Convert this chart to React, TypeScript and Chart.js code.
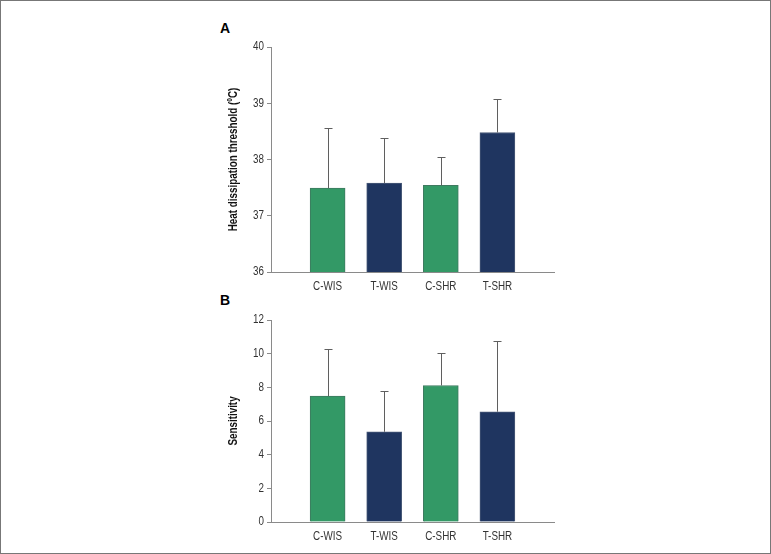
import React, { useEffect, useRef } from 'react';
import { Chart, registerables } from 'chart.js';

Chart.register(...registerables);

const categories = ['C-WIS', 'T-WIS', 'C-SHR', 'T-SHR'];
const thresholdMeans = [37.49, 37.58, 37.54, 38.48];
const thresholdErrors = [1.07, 0.8, 0.5, 0.6];
const sensitivityMeans = [7.48, 5.36, 8.11, 6.55];
const sensitivityErrors = [2.8, 2.44, 1.93, 4.21];
const thresholdTicks = [36, 37, 38, 39, 40];
const sensitivityTicks = [0, 2, 4, 6, 8, 10, 12];
const barColors = ['#339966', '#1f3560', '#339966', '#1f3560'];
const barBorders = ['#3f7a60', '#4a5a78', '#3f7a60', '#4a5a78'];

const FONT = "'Liberation Sans', Arial, sans-serif";
const NARROW = 0.82;
const AXIS = '#8a8a8a';

function makeErrorPlugin(errors: (number | null)[]) {
  return {
    id: 'errorBars',
    afterDatasetsDraw(chart: any) {
      const meta = chart.getDatasetMeta(0);
      const values = chart.data.datasets[0].data as (number | null)[];
      const y = chart.scales.y;
      const ctx = chart.ctx as CanvasRenderingContext2D;
      ctx.save();
      ctx.strokeStyle = '#5f5f5f';
      ctx.lineWidth = 1;
      meta.data.forEach((el: any, i: number) => {
        const v = values[i];
        const e = errors[i];
        if (v == null || e == null) return;
        const x = Math.round(el.x) + 0.5;
        const top = Math.round(y.getPixelForValue(v + e)) + 0.5;
        const base = y.getPixelForValue(v);
        ctx.beginPath();
        ctx.moveTo(x, base);
        ctx.lineTo(x, top);
        ctx.moveTo(x - 4, top);
        ctx.lineTo(x + 4, top);
        ctx.stroke();
      });
      ctx.restore();
    },
  };
}

// Draws tick labels and the axis title in a narrow (horizontally condensed) face
function makeTextPlugin(labels: string[], ticks: number[], title: string) {
  return {
    id: 'narrowText',
    afterDraw(chart: any) {
      const ctx = chart.ctx as CanvasRenderingContext2D;
      const { left, top, bottom } = chart.chartArea;
      const xs = chart.scales.x;
      const ys = chart.scales.y;
      ctx.save();
      ctx.fillStyle = '#333';
      ctx.font = `12px ${FONT}`;
      ctx.textBaseline = 'middle';
      ticks.forEach((v) => {
        const py = ys.getPixelForValue(v);
        ctx.save();
        ctx.translate(left - 7, py);
        ctx.scale(NARROW, 1);
        ctx.textAlign = 'right';
        ctx.fillText(String(v), 0, 0);
        ctx.restore();
      });
      labels.forEach((lab, i) => {
        if (!lab) return;
        const px = xs.getPixelForValue(i);
        ctx.save();
        ctx.translate(px, bottom + 14.5);
        ctx.scale(NARROW, 1);
        ctx.textAlign = 'center';
        ctx.fillText(lab, 0, 0);
        ctx.restore();
      });
      ctx.save();
      ctx.fillStyle = '#111';
      ctx.font = `bold 12px ${FONT}`;
      ctx.translate(left - 37, (top + bottom) / 2);
      ctx.rotate(-Math.PI / 2);
      ctx.scale(NARROW, 1);
      ctx.textAlign = 'center';
      ctx.fillText(title, 0, 0);
      ctx.restore();
      ctx.restore();
    },
  };
}

type PanelProps = {
  left: number;
  top: number;
  width: number;
  height: number;
  means: number[];
  errors: number[];
  ticks: number[];
  title: string;
};

function BarPanel({ left, top, width, height, means, errors, ticks, title }: PanelProps) {
  const ref = useRef<HTMLCanvasElement | null>(null);
  useEffect(() => {
    if (!ref.current) return;
    const labels = ['', ...categories, ''];
    const data = [null, ...means, null];
    const errs = [null, ...errors, null];
    const chart = new Chart(ref.current, {
      type: 'bar',
      data: {
        labels,
        datasets: [
          {
            data: data as any,
            backgroundColor: ['transparent', ...barColors, 'transparent'],
            borderColor: ['transparent', ...barBorders, 'transparent'],
            borderWidth: 1,
            barThickness: 35,
          },
        ],
      },
      options: {
        animation: false,
        responsive: false,
        maintainAspectRatio: false,
        layout: { padding: { top: 8, left: 0, right: 1, bottom: 0 } },
        plugins: {
          legend: { display: false },
          tooltip: { enabled: false },
          title: { display: false },
        },
        scales: {
          x: {
            type: 'category',
            offset: false,
            grid: { display: false },
            border: { display: true, color: AXIS, width: 1 },
            ticks: { display: false, autoSkip: false },
            afterFit: (s: any) => {
              s.height = 30;
            },
          },
          y: {
            min: ticks[0],
            max: ticks[ticks.length - 1],
            afterBuildTicks: (s: any) => {
              s.ticks = ticks.map((v) => ({ value: v }));
            },
            ticks: { display: false },
            grid: { drawOnChartArea: false, drawTicks: true, tickLength: 4, color: AXIS },
            border: { display: true, color: AXIS, width: 1 },
            title: { display: false },
            afterFit: (s: any) => {
              s.width = 49;
            },
          },
        },
      } as any,
      plugins: [makeErrorPlugin(errs), makeTextPlugin(labels, ticks, title)],
    });
    return () => chart.destroy();
  }, []);
  return (
    <canvas
      ref={ref}
      width={width}
      height={height}
      style={{ position: 'absolute', left, top, width, height }}
    />
  );
}

const labelStyle: React.CSSProperties = {
  position: 'absolute',
  fontFamily: "'Liberation Sans', Arial, sans-serif",
  fontWeight: 'bold',
  fontSize: 14,
  lineHeight: '14px',
  color: '#000',
};

export default function App() {
  return (
    <div
      style={{
        position: 'fixed',
        left: 0,
        top: 0,
        width: 771,
        height: 554,
        boxSizing: 'border-box',
        border: '1px solid #777',
        background: '#fff',
        overflow: 'hidden',
      }}
    >
      <div style={{ ...labelStyle, left: 219, top: 20 }}>A</div>
      <div style={{ ...labelStyle, left: 219, top: 292 }}>B</div>
      <BarPanel
        left={221}
        top={38}
        width={333}
        height={263}
        means={thresholdMeans}
        errors={thresholdErrors}
        ticks={thresholdTicks}
        title="Heat dissipation threshold (ºC)"
      />
      <BarPanel
        left={221}
        top={311}
        width={333}
        height={240}
        means={sensitivityMeans}
        errors={sensitivityErrors}
        ticks={sensitivityTicks}
        title="Sensitivity"
      />
    </div>
  );
}
